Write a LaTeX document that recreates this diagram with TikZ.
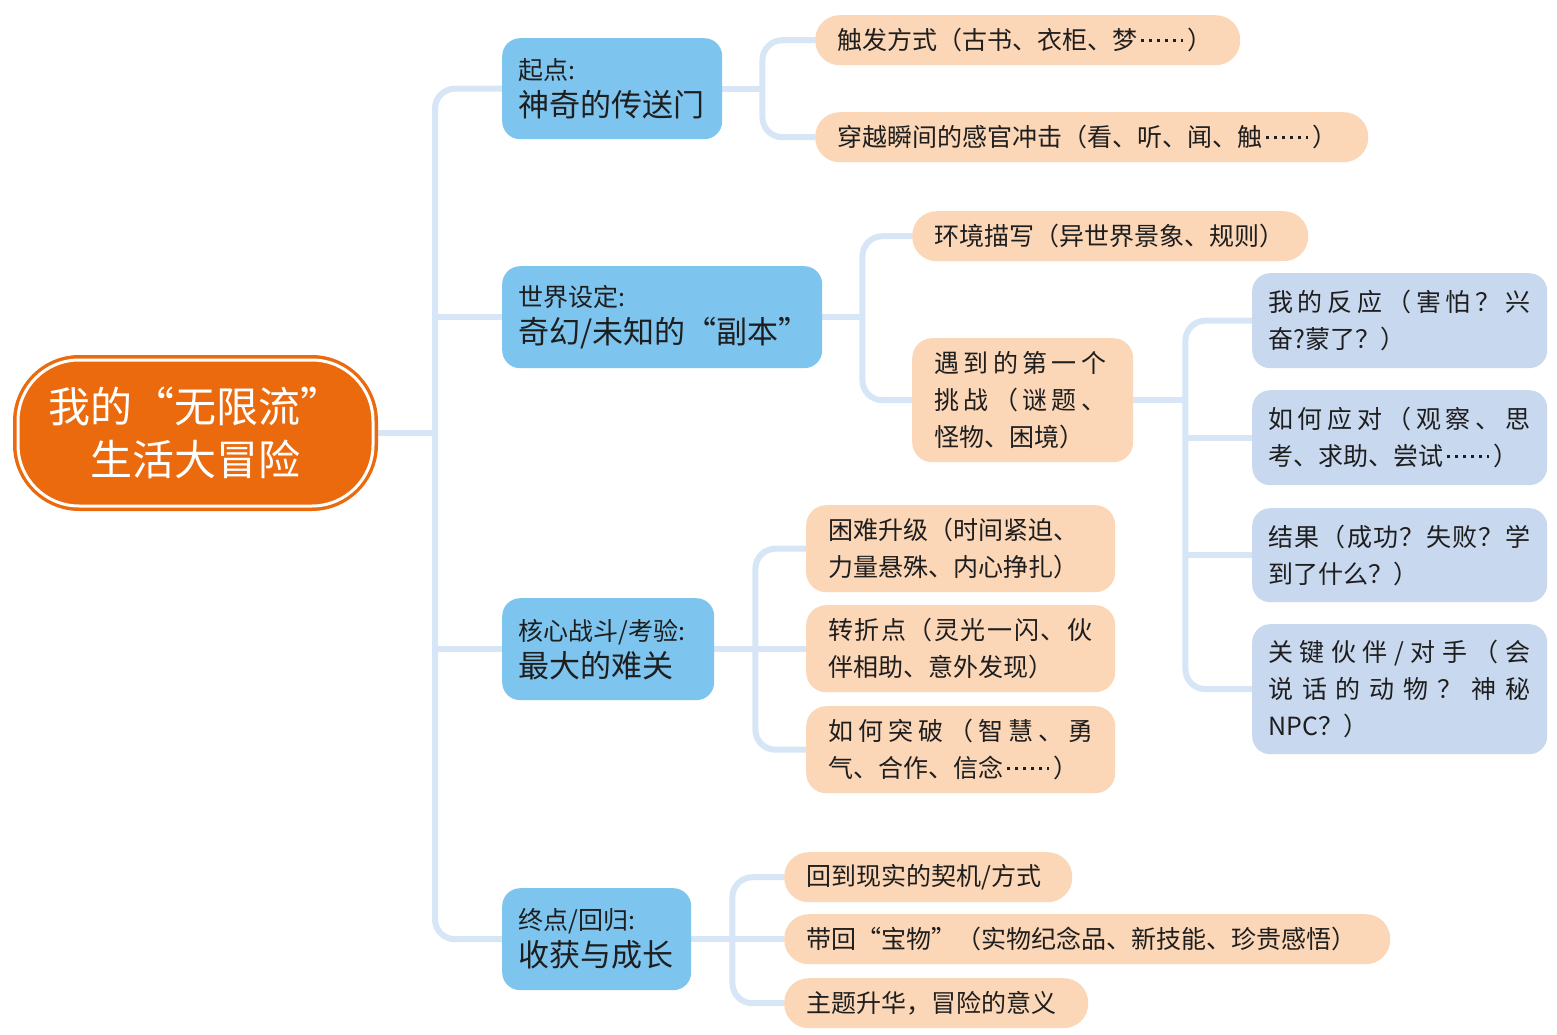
\documentclass[tikz,border=0pt]{standalone}
\usepackage{fontspec}
\setmainfont{Noto Sans CJK SC}
\usetikzlibrary{backgrounds}
\definecolor{conncol}{HTML}{D6E6F7}
\definecolor{rootcol}{HTML}{EA6A0D}
\definecolor{lvone}{HTML}{7DC4EE}
\definecolor{peachcol}{HTML}{FBD6B7}
\definecolor{lvthree}{HTML}{C8D8EF}
\definecolor{txt}{HTML}{1E1E1E}
\def\dospread#1{\ifx\relax#1\else#1\hfil\expandafter\dospread\fi}
\newcommand\spreadline[2]{\leavevmode\hbox to #1{\dospread#2\relax\unskip}}
\newcommand\onedot{\rule[0.3em]{0.11em}{0.11em}}
\newcommand\sixdots{\hbox to 2em{\hspace{0.15em}\onedot\hfil\onedot\hfil\onedot\hfil\onedot\hfil\onedot\hfil\onedot\hspace{0.15em}}}
\tikzset{
  conn/.style={draw=conncol, line width=6pt, rounded corners=20pt},
  boxbase/.style={anchor=north west, text=txt, font=\fontsize{25}{37}\selectfont, align=left, inner ysep=0pt},
  lone/.style={boxbase, fill=lvone, rounded corners=18pt, inner xsep=16pt},
  ltwo/.style={boxbase, fill=peachcol, inner xsep=22pt, rounded corners=20pt},
  pill/.style={rounded corners=24.5pt},
  lthree/.style={boxbase, fill=lvthree, rounded corners=18pt, inner xsep=16pt},
  rootbox/.style={fill=rootcol, draw=rootcol, line width=1pt, rounded corners=66pt, text=white, align=center, font=\fontsize{42}{53}\selectfont},
  ring/.style={draw=white, line width=3pt, rounded corners=61pt}
}
\newcommand\bigtxt[1]{{\fontsize{31}{37}\selectfont #1}}
\begin{document}
\begin{tikzpicture}[x=1pt,y=-1pt]
\useasboundingbox (0,0) rectangle (1557,1035);
% root
\node[rootbox, minimum width=364pt, minimum height=155pt] (root) at (195.5,433) {我的“无限流”\\生活大冒险};
\draw[ring] ([shift={(5,5)}]root.north west) rectangle ([shift={(-5,-5)}]root.south east);
% level one
\node[lone, text width=188pt, minimum height=101pt] (A) at (502,38) {起点:\\\bigtxt{神奇的传送门}};
\node[lone, text width=288pt, minimum height=102pt] (B) at (502,266) {世界设定:\\\bigtxt{奇幻/未知的“副本”}};
\node[lone, text width=180pt, minimum height=102pt] (C) at (502,598) {核心战斗/考验:\\\bigtxt{最大的难关}};
\node[lone, text width=157pt, minimum height=102pt] (D) at (502,888) {终点/回归:\\\bigtxt{收获与成长}};
% level two
\node[ltwo, pill, text width=381pt, minimum height=50pt] (P1) at (815,15) {触发方式（古书、衣柜、梦\sixdots）};
\node[ltwo, pill, text width=509pt, minimum height=50pt] (P2) at (815,112) {穿越瞬间的感官冲击（看、听、闻、触\sixdots）};
\node[ltwo, pill, text width=352pt, minimum height=50pt] (P3) at (912,211) {环境描写（异世界景象、规则）};
\node[ltwo, text width=177pt, minimum height=124pt] (P4) at (912,338) {\spreadline{172pt}{遇到的第一个}\\\spreadline{172pt}{挑战（谜题、}\\怪物、困境）};
\node[ltwo, text width=265pt, minimum height=87pt] (P5) at (806,505) {困难升级（时间紧迫、\\力量悬殊、内心挣扎）};
\node[ltwo, text width=265pt, minimum height=87pt] (P6) at (806,605) {\spreadline{264pt}{转折点（灵光一闪、伙}\\伴相助、意外发现）};
\node[ltwo, text width=265pt, minimum height=87pt] (P7) at (806,706) {\spreadline{265pt}{如何突破（智慧、勇}\\气、合作、信念\sixdots）};
\node[ltwo, pill, text width=244pt, minimum height=50pt] (P8) at (784,852) {回到现实的契机/方式};
\node[ltwo, pill, text width=562pt, minimum height=50pt] (P9) at (784,914) {带回“宝物”（实物纪念品、新技能、珍贵感悟）};
\node[ltwo, pill, text width=260pt, minimum height=50pt] (P10) at (784,978) {主题升华，冒险的意义};
% level three
\node[lthree, text width=263pt, minimum height=95pt] (Q1) at (1252,273) {\spreadline{262pt}{我的反应（害怕？兴}\\奋?蒙了？）};
\node[lthree, text width=263pt, minimum height=95pt] (Q2) at (1252,390) {\spreadline{262pt}{如何应对（观察、思}\\考、求助、尝试\sixdots）};
\node[lthree, text width=263pt, minimum height=94pt] (Q3) at (1252,508) {\spreadline{262pt}{结果（成功？失败？学}\\到了什么？）};
\node[lthree, text width=263pt, minimum height=130pt] (Q4) at (1252,624) {\spreadline{262pt}{关键伙伴/对手（会}\\\spreadline{262pt}{说话的动物？神秘}\\NPC？）};
% junctions
\coordinate (jR) at ([xshift=57pt]root.east);
\coordinate (jA) at ([xshift=40pt]A.east);
\coordinate (jB) at ([xshift=40pt]B.east);
\coordinate (jC) at ([xshift=41pt]C.east);
\coordinate (jD) at ([xshift=41pt]D.east);
\coordinate (jP) at ([xshift=52pt]P4.east);
\begin{scope}[on background layer]
\fill[white] (0,0) rectangle (1557,1035);
% trunk
\draw[conn] (root.east) -- (jR);
\draw[conn] (A.west) -| (jR) |- (D.west);
\draw[conn] (B.west -| jR) -- (B.west);
\draw[conn] (C.west -| jR) -- (C.west);
% A
\draw[conn] (A.east) -- (jA);
\draw[conn] (P1.west) -| (jA) |- (P2.west);
% B
\draw[conn] (B.east) -- (jB);
\draw[conn] (P3.west) -| (jB) |- (P4.west);
% P4
\draw[conn] (P4.east) -- (jP);
\draw[conn] (Q1.west) -| (jP) |- (Q4.west);
\draw[conn] (Q2.west -| jP) -- (Q2.west);
\draw[conn] (Q3.west -| jP) -- (Q3.west);
% C
\draw[conn] (C.east) -- (jC);
\draw[conn] (P5.west) -| (jC) |- (P7.west);
\draw[conn] (P6.west -| jC) -- (P6.west);
% D
\draw[conn] (D.east) -- (jD);
\draw[conn] (P8.west) -| (jD) |- (P10.west);
\draw[conn] (P9.west -| jD) -- (P9.west);
\end{scope}
\end{tikzpicture}
\end{document}
